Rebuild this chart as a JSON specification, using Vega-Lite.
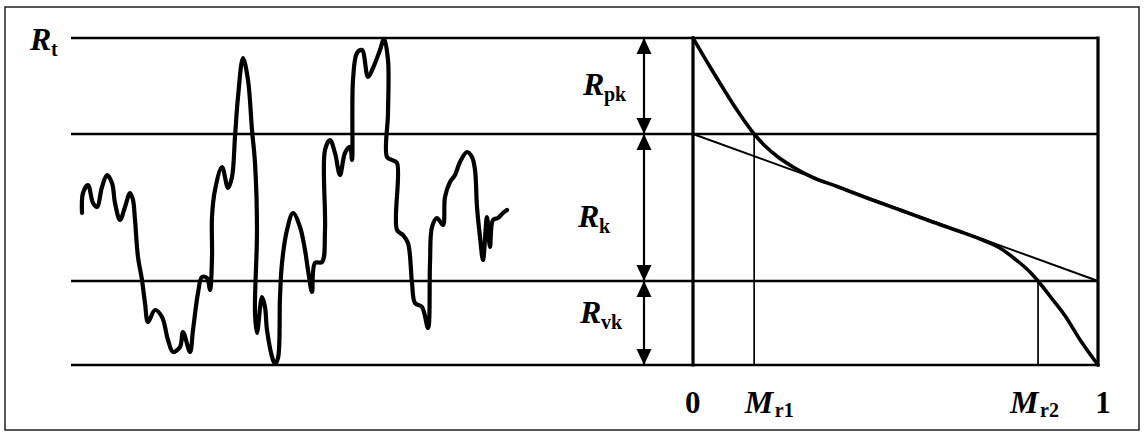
{
  "$schema": "https://vega.github.io/schema/vega-lite/v6.json",
  "width": 1144,
  "height": 434,
  "autosize": {"type": "fit", "contains": "padding"},
  "padding": {"left": 5, "top": 7, "right": 5, "bottom": 4},
  "background": "white",
  "config": {
    "view": {"stroke": "#222", "strokeWidth": 1.5},
    "font": "Liberation Serif"
  },
  "datasets": {
    "profile": [
      {"i": 1, "x": 0.11, "h": 15.2}, {"i": 2, "x": 0.12, "h": 17.2}, {"i": 3, "x": 0.17, "h": 18.0},
      {"i": 4, "x": 0.22, "h": 16.2}, {"i": 5, "x": 0.26, "h": 15.8}, {"i": 6, "x": 0.31, "h": 17.8},
      {"i": 7, "x": 0.36, "h": 19.0}, {"i": 8, "x": 0.41, "h": 18.2}, {"i": 9, "x": 0.44, "h": 16.2},
      {"i": 10, "x": 0.49, "h": 14.5}, {"i": 11, "x": 0.54, "h": 15.8}, {"i": 12, "x": 0.59, "h": 17.2},
      {"i": 13, "x": 0.62, "h": 16.5}, {"i": 14, "x": 0.64, "h": 14.5}, {"i": 15, "x": 0.67, "h": 10.8},
      {"i": 16, "x": 0.71, "h": 8.5}, {"i": 17, "x": 0.74, "h": 6.2}, {"i": 18, "x": 0.77, "h": 4.3},
      {"i": 19, "x": 0.84, "h": 5.5}, {"i": 20, "x": 0.91, "h": 4.8}, {"i": 21, "x": 0.97, "h": 2.5},
      {"i": 22, "x": 1.02, "h": 1.3}, {"i": 23, "x": 1.09, "h": 1.8}, {"i": 24, "x": 1.12, "h": 3.3},
      {"i": 25, "x": 1.19, "h": 1.3}, {"i": 26, "x": 1.22, "h": 3.5}, {"i": 27, "x": 1.27, "h": 7.2},
      {"i": 28, "x": 1.31, "h": 8.8}, {"i": 29, "x": 1.36, "h": 8.7}, {"i": 30, "x": 1.39, "h": 7.5},
      {"i": 31, "x": 1.41, "h": 10.8}, {"i": 32, "x": 1.41, "h": 14.8}, {"i": 33, "x": 1.44, "h": 17.5},
      {"i": 34, "x": 1.51, "h": 19.8}, {"i": 35, "x": 1.57, "h": 17.7}, {"i": 36, "x": 1.61, "h": 18.8},
      {"i": 37, "x": 1.64, "h": 22.8}, {"i": 38, "x": 1.67, "h": 26.8}, {"i": 39, "x": 1.72, "h": 30.7},
      {"i": 40, "x": 1.77, "h": 28.5}, {"i": 41, "x": 1.81, "h": 23.5}, {"i": 42, "x": 1.84, "h": 20.2},
      {"i": 43, "x": 1.86, "h": 13.5}, {"i": 44, "x": 1.84, "h": 5.2}, {"i": 45, "x": 1.86, "h": 3.2},
      {"i": 46, "x": 1.91, "h": 6.8}, {"i": 47, "x": 1.94, "h": 5.8}, {"i": 48, "x": 1.96, "h": 3.5},
      {"i": 49, "x": 2.02, "h": 0.5}, {"i": 50, "x": 2.04, "h": 0.1}, {"i": 51, "x": 2.07, "h": 0.7},
      {"i": 52, "x": 2.09, "h": 6.8}, {"i": 53, "x": 2.11, "h": 10.2}, {"i": 54, "x": 2.16, "h": 13.5},
      {"i": 55, "x": 2.22, "h": 15.2}, {"i": 56, "x": 2.29, "h": 13.8}, {"i": 57, "x": 2.34, "h": 11.5},
      {"i": 58, "x": 2.37, "h": 9.5}, {"i": 59, "x": 2.41, "h": 7.3}, {"i": 60, "x": 2.44, "h": 10.2},
      {"i": 61, "x": 2.51, "h": 10.3}, {"i": 62, "x": 2.54, "h": 13.5}, {"i": 63, "x": 2.54, "h": 21.5},
      {"i": 64, "x": 2.59, "h": 22.5}, {"i": 65, "x": 2.64, "h": 21.2}, {"i": 66, "x": 2.69, "h": 19.0},
      {"i": 67, "x": 2.74, "h": 21.2}, {"i": 68, "x": 2.79, "h": 21.8}, {"i": 69, "x": 2.81, "h": 20.5},
      {"i": 70, "x": 2.82, "h": 28.5}, {"i": 71, "x": 2.86, "h": 31.2}, {"i": 72, "x": 2.91, "h": 31.5},
      {"i": 73, "x": 2.97, "h": 28.8}, {"i": 74, "x": 3.02, "h": 29.7}, {"i": 75, "x": 3.09, "h": 31.5},
      {"i": 76, "x": 3.13, "h": 32.6}, {"i": 77, "x": 3.17, "h": 30.5}, {"i": 78, "x": 3.17, "h": 25.2},
      {"i": 79, "x": 3.16, "h": 20.8}, {"i": 80, "x": 3.21, "h": 20.5}, {"i": 81, "x": 3.26, "h": 20.2},
      {"i": 82, "x": 3.26, "h": 13.5}, {"i": 83, "x": 3.32, "h": 13.0}, {"i": 84, "x": 3.37, "h": 12.2},
      {"i": 85, "x": 3.41, "h": 8.2}, {"i": 86, "x": 3.44, "h": 6.2}, {"i": 87, "x": 3.51, "h": 5.8},
      {"i": 88, "x": 3.57, "h": 3.7}, {"i": 89, "x": 3.59, "h": 10.2}, {"i": 90, "x": 3.61, "h": 13.8},
      {"i": 91, "x": 3.66, "h": 14.7}, {"i": 92, "x": 3.72, "h": 14.0}, {"i": 93, "x": 3.74, "h": 16.8},
      {"i": 94, "x": 3.79, "h": 18.3}, {"i": 95, "x": 3.84, "h": 19.0}, {"i": 96, "x": 3.89, "h": 20.3},
      {"i": 97, "x": 3.96, "h": 21.3}, {"i": 98, "x": 4.01, "h": 20.8}, {"i": 99, "x": 4.04, "h": 19.5},
      {"i": 100, "x": 4.06, "h": 15.8}, {"i": 101, "x": 4.09, "h": 12.8}, {"i": 102, "x": 4.12, "h": 10.5},
      {"i": 103, "x": 4.16, "h": 14.8}, {"i": 104, "x": 4.19, "h": 11.8}, {"i": 105, "x": 4.22, "h": 14.5},
      {"i": 106, "x": 4.27, "h": 14.7}, {"i": 107, "x": 4.32, "h": 15.2}, {"i": 108, "x": 4.36, "h": 15.5}
    ],
    "levels": [
      {"name": "Rt", "h": 32.7, "from": 0, "to": 6.22, "mrFrom": 0, "mrTo": 1},
      {"name": "Rpk", "h": 23.1, "from": 0, "to": 6.22, "mrFrom": 0, "mrTo": 1},
      {"name": "Rvk", "h": 8.4, "from": 0, "to": 6.22, "mrFrom": 0, "mrTo": 1},
      {"name": "base", "h": 0, "from": 0, "to": 6.22, "mrFrom": 0, "mrTo": 1}
    ],
    "bearing": [
      {"mr": 0, "h": 32.7}, {"mr": 0.037, "h": 30.15}, {"mr": 0.074, "h": 27.7}, {"mr": 0.111, "h": 25.35},
      {"mr": 0.151, "h": 23.1}, {"mr": 0.178, "h": 21.9}, {"mr": 0.21, "h": 20.8}, {"mr": 0.247, "h": 19.8},
      {"mr": 0.296, "h": 18.75}, {"mr": 0.356, "h": 17.85}, {"mr": 0.42, "h": 16.85}, {"mr": 0.511, "h": 15.5},
      {"mr": 0.585, "h": 14.4}, {"mr": 0.659, "h": 13.35}, {"mr": 0.709, "h": 12.6}, {"mr": 0.758, "h": 11.7},
      {"mr": 0.795, "h": 10.6}, {"mr": 0.832, "h": 9.3}, {"mr": 0.852, "h": 8.4}, {"mr": 0.881, "h": 6.9},
      {"mr": 0.919, "h": 4.9}, {"mr": 0.956, "h": 2.5}, {"mr": 1, "h": 0}
    ],
    "tangent": [{"mr": 0, "h": 23.1}, {"mr": 1, "h": 8.4}],
    "ratios": [
      {"name": "Mr1", "mr": 0.151, "low": 0, "h": 23.1},
      {"name": "Mr2", "mr": 0.852, "low": 0, "h": 8.4}
    ],
    "box": [{"mr": 0, "low": 0, "high": 32.7}, {"mr": 1, "low": 0, "high": 32.7}],
    "shaft": [{"x": 5.73, "low": 0, "high": 32.7}],
    "heads": [
      {"x": 5.73, "h": 32.7, "dir": "up"}, {"x": 5.73, "h": 23.1, "dir": "down"},
      {"x": 5.73, "h": 23.1, "dir": "up"}, {"x": 5.73, "h": 8.4, "dir": "down"},
      {"x": 5.73, "h": 8.4, "dir": "up"}, {"x": 5.73, "h": 0, "dir": "down"}
    ],
    "rLabels": [
      {"main": "R", "sub": "t", "x": -0.41, "h": 31.5},
      {"main": "R", "sub": "pk", "x": 5.12, "h": 27.0},
      {"main": "R", "sub": "k", "x": 5.07, "h": 13.8},
      {"main": "R", "sub": "vk", "x": 5.09, "h": 4.2}
    ],
    "mLabels": [
      {"main": "M", "sub": "r1", "mr": 0.128, "h": -4.8},
      {"main": "M", "sub": "r2", "mr": 0.783, "h": -4.8}
    ],
    "numLabels": [
      {"text": "0", "mr": -0.02, "h": -4.8},
      {"text": "1", "mr": 0.993, "h": -4.8}
    ]
  },
  "resolve": {"scale": {"x": "independent"}},
  "layer": [
    {
      "data": {"name": "levels"},
      "mark": {"type": "rule", "color": "#000", "strokeWidth": 2.5},
      "encoding": {
        "x": {"field": "from", "type": "quantitative", "scale": {"domain": [-0.66, 10.68], "nice": false, "zero": false}, "axis": null},
        "x2": {"field": "to"},
        "y": {"field": "h", "type": "quantitative", "scale": {"domain": [-6.5, 35.8], "nice": false, "zero": false}, "axis": null}
      }
    },
    {
      "data": {"name": "levels"},
      "mark": {"type": "rule", "color": "#000", "strokeWidth": 2.5},
      "encoding": {
        "x": {"field": "mrFrom", "type": "quantitative", "scale": {"domain": [-1.69877, 1.10123], "nice": false, "zero": false}, "axis": null},
        "x2": {"field": "mrTo"},
        "y": {"field": "h", "type": "quantitative", "scale": {"domain": [-6.5, 35.8], "nice": false, "zero": false}, "axis": null}
      }
    },
    {
      "data": {"name": "box"},
      "mark": {"type": "rule", "color": "#000", "strokeWidth": 3.2, "strokeCap": "square"},
      "encoding": {
        "x": {"field": "mr", "type": "quantitative", "scale": {"domain": [-1.69877, 1.10123], "nice": false, "zero": false}, "axis": null},
        "y": {"field": "low", "type": "quantitative", "scale": {"domain": [-6.5, 35.8], "nice": false, "zero": false}, "axis": null},
        "y2": {"field": "high"}
      }
    },
    {
      "data": {"name": "ratios"},
      "mark": {"type": "rule", "color": "#000", "strokeWidth": 1.7},
      "encoding": {
        "x": {"field": "mr", "type": "quantitative", "scale": {"domain": [-1.69877, 1.10123], "nice": false, "zero": false}, "axis": null},
        "y": {"field": "low", "type": "quantitative", "scale": {"domain": [-6.5, 35.8], "nice": false, "zero": false}, "axis": null},
        "y2": {"field": "h"}
      }
    },
    {
      "data": {"name": "tangent"},
      "mark": {"type": "line", "color": "#000", "strokeWidth": 2},
      "encoding": {
        "x": {"field": "mr", "type": "quantitative", "scale": {"domain": [-1.69877, 1.10123], "nice": false, "zero": false}, "axis": null},
        "y": {"field": "h", "type": "quantitative", "scale": {"domain": [-6.5, 35.8], "nice": false, "zero": false}, "axis": null}
      }
    },
    {
      "data": {"name": "bearing"},
      "mark": {"type": "line", "color": "#000", "strokeWidth": 3.6, "interpolate": "monotone", "strokeCap": "round"},
      "encoding": {
        "x": {"field": "mr", "type": "quantitative", "scale": {"domain": [-1.69877, 1.10123], "nice": false, "zero": false}, "axis": null},
        "y": {"field": "h", "type": "quantitative", "scale": {"domain": [-6.5, 35.8], "nice": false, "zero": false}, "axis": null}
      }
    },
    {
      "data": {"name": "profile"},
      "mark": {"type": "line", "color": "#000", "strokeWidth": 4.2, "strokeJoin": "round", "strokeCap": "round", "interpolate": "catmull-rom"},
      "encoding": {
        "x": {"field": "x", "type": "quantitative", "scale": {"domain": [-0.66, 10.68], "nice": false, "zero": false}, "axis": null},
        "y": {"field": "h", "type": "quantitative", "scale": {"domain": [-6.5, 35.8], "nice": false, "zero": false}, "axis": null},
        "order": {"field": "i", "type": "quantitative"}
      }
    },
    {
      "data": {"name": "shaft"},
      "mark": {"type": "rule", "color": "#000", "strokeWidth": 2.2},
      "encoding": {
        "x": {"field": "x", "type": "quantitative", "scale": {"domain": [-0.66, 10.68], "nice": false, "zero": false}, "axis": null},
        "y": {"field": "low", "type": "quantitative", "scale": {"domain": [-6.5, 35.8], "nice": false, "zero": false}, "axis": null},
        "y2": {"field": "high"}
      }
    },
    {
      "data": {"name": "heads"},
      "mark": {"type": "point", "filled": true, "color": "#000", "opacity": 1, "size": 1024, "strokeWidth": 0},
      "encoding": {
        "x": {"field": "x", "type": "quantitative", "scale": {"domain": [-0.66, 10.68], "nice": false, "zero": false}, "axis": null},
        "y": {"field": "h", "type": "quantitative", "scale": {"domain": [-6.5, 35.8], "nice": false, "zero": false}, "axis": null},
        "shape": {"field": "dir", "type": "nominal", "legend": null,
          "scale": {"domain": ["up", "down"], "range": ["M0,0L-0.47,1L0.47,1Z", "M0,0L-0.47,-1L0.47,-1Z"]}}
      }
    },
    {
      "data": {"name": "rLabels"},
      "mark": {"type": "text", "font": "Liberation Serif", "fontSize": 32, "fontStyle": "italic", "fontWeight": "bold", "align": "left", "baseline": "alphabetic", "color": "#000"},
      "encoding": {
        "x": {"field": "x", "type": "quantitative", "scale": {"domain": [-0.66, 10.68], "nice": false, "zero": false}, "axis": null},
        "y": {"field": "h", "type": "quantitative", "scale": {"domain": [-6.5, 35.8], "nice": false, "zero": false}, "axis": null},
        "text": {"field": "main"}
      }
    },
    {
      "data": {"name": "rLabels"},
      "mark": {"type": "text", "font": "Liberation Serif", "fontSize": 20, "fontWeight": "bold", "align": "left", "baseline": "alphabetic", "dx": 21, "dy": 6, "color": "#000"},
      "encoding": {
        "x": {"field": "x", "type": "quantitative", "scale": {"domain": [-0.66, 10.68], "nice": false, "zero": false}, "axis": null},
        "y": {"field": "h", "type": "quantitative", "scale": {"domain": [-6.5, 35.8], "nice": false, "zero": false}, "axis": null},
        "text": {"field": "sub"}
      }
    },
    {
      "data": {"name": "mLabels"},
      "mark": {"type": "text", "font": "Liberation Serif", "fontSize": 32, "fontStyle": "italic", "fontWeight": "bold", "align": "left", "baseline": "alphabetic", "color": "#000"},
      "encoding": {
        "x": {"field": "mr", "type": "quantitative", "scale": {"domain": [-1.69877, 1.10123], "nice": false, "zero": false}, "axis": null},
        "y": {"field": "h", "type": "quantitative", "scale": {"domain": [-6.5, 35.8], "nice": false, "zero": false}, "axis": null},
        "text": {"field": "main"}
      }
    },
    {
      "data": {"name": "mLabels"},
      "mark": {"type": "text", "font": "Liberation Serif", "fontSize": 20, "fontWeight": "bold", "align": "left", "baseline": "alphabetic", "dx": 30, "dy": 4, "color": "#000"},
      "encoding": {
        "x": {"field": "mr", "type": "quantitative", "scale": {"domain": [-1.69877, 1.10123], "nice": false, "zero": false}, "axis": null},
        "y": {"field": "h", "type": "quantitative", "scale": {"domain": [-6.5, 35.8], "nice": false, "zero": false}, "axis": null},
        "text": {"field": "sub"}
      }
    },
    {
      "data": {"name": "numLabels"},
      "mark": {"type": "text", "font": "Liberation Serif", "fontSize": 31, "fontWeight": "bold", "align": "left", "baseline": "alphabetic", "color": "#000"},
      "encoding": {
        "x": {"field": "mr", "type": "quantitative", "scale": {"domain": [-1.69877, 1.10123], "nice": false, "zero": false}, "axis": null},
        "y": {"field": "h", "type": "quantitative", "scale": {"domain": [-6.5, 35.8], "nice": false, "zero": false}, "axis": null},
        "text": {"field": "text"}
      }
    }
  ]
}
